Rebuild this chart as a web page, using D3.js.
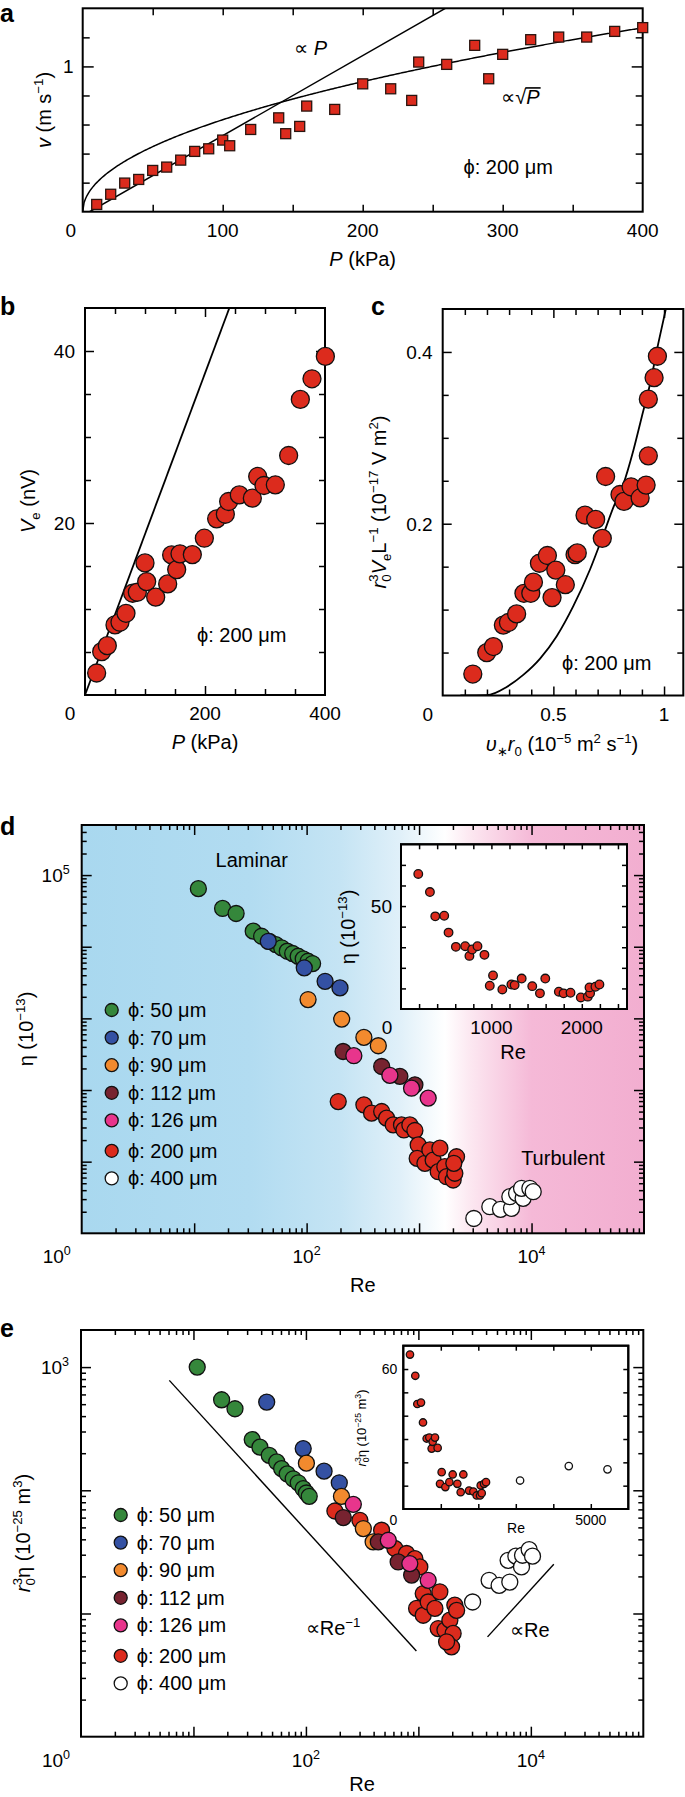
<!DOCTYPE html>
<html><head><meta charset="utf-8">
<script src="https://cdn.jsdelivr.net/npm/d3@7"></script>
<style>
body{margin:0;background:#fff}
text{font-family:"Liberation Sans",Arial,Helvetica,sans-serif;fill:#000}
</style></head>
<body>
<svg id="fig" width="685" height="1797" xmlns="http://www.w3.org/2000/svg"></svg>
<script>
// ================= DATA =================
// Panel a: flow velocity vs pressure (phi 200 um)
const aPressure = [10,20,30,40,50,60,70,80,90,100,105,120,140,145,155,160,180,200,220,235,240,260,280,290,300,320,340,360,380,400];
const aVelocity = [0.05,0.12,0.197,0.222,0.284,0.307,0.355,0.415,0.433,0.493,0.454,0.566,0.646,0.537,0.587,0.727,0.704,0.880,0.846,0.766,1.03,1.014,1.145,0.915,1.083,1.184,1.202,1.202,1.241,1.267];
const aLinearSlope = 0.00551, aLinearOffset = 5;   // "∝ P" guide
const aSqrtCoef = 0.0633;                            // "∝ √P" guide

// Panel b: streaming voltage vs pressure
const bPressure = [19.4,27.8,37.2,50,58.3,68.3,79.4,87.2,100,102.8,117.8,137.8,144.4,152.8,158.3,178.9,198.9,219.4,233.9,239.4,257.2,278.9,287.8,298.3,317.2,339.4,358.9,378.3,400.6];
const bVoltage  = [2.56,5.04,5.74,8.15,8.46,9.5,11.83,11.95,15.36,13.19,11.37,12.92,16.29,14.58,16.41,16.33,18.23,20.48,21.02,22.5,23.27,22.89,25.41,24.36,24.44,27.85,34.37,36.77,39.37];
const bLineP = [0, 240.6], bLineV = [0, 45];

// Panel c: r0^3 Ve/L vs v* r0
const cFlux    = [0.136,0.199,0.229,0.274,0.297,0.334,0.367,0.398,0.41,0.437,0.473,0.494,0.511,0.554,0.598,0.608,0.643,0.691,0.721,0.736,0.801,0.819,0.851,0.892,0.919,0.929,0.929,0.955,0.97];
const cVoltage = [0.025,0.05,0.057,0.082,0.085,0.095,0.119,0.119,0.132,0.154,0.163,0.114,0.146,0.129,0.164,0.166,0.21,0.205,0.183,0.255,0.234,0.226,0.243,0.23,0.245,0.279,0.345,0.37,0.395];
const cCurveX = [0.08,0.2,0.289,0.364,0.44,0.515,0.59,0.666,0.721,0.771,0.816,0.861,0.899,0.937,0.974,1.009];
const cCurveY = [0,0.0004,0.010,0.024,0.043,0.069,0.104,0.147,0.184,0.219,0.246,0.285,0.324,0.363,0.41,0.451];

// Legend labels (pore diameter)
const phiLabels = ["ϕ: 50 μm","ϕ: 70 μm","ϕ: 90 μm","ϕ: 112 μm","ϕ: 126 μm","ϕ: 200 μm","ϕ: 400 μm"];

// Panel d: eta vs Re  [Re, eta(1e-13)]
const d50 = [[10.9,64600],[17.9,34200],[23.6,29100],[33.5,16500],[39.8,14000],[46.6,11900],[53.3,10700],[60.0,9660],[67.3,8650],[75.2,8040],[84.1,7360],[93.3,6760],[103,6270],[113,5820]];
const d70 = [[45.6,11900],[95.3,5070],[146,3290],[198,2660]];
const d90 = [[103,1830],[205,977],[323,542],[434,415]];
const d112 = [[211,345],[465,213],[675,155],[918,118]];
const d126 = [[263,301],[550,160],[857,106],[1205,77.1]];
const d200 = [[191,69.0],[323,62.1],[378,47.5],[465,50.1],[514,40.5],[589,32.6],[698,32.6],[733,27.7],[828,32.6],[918,27.2],[982,17.1],[962,11.1],[1127,9.48],[1247,14.6],[1334,10.5],[1531,15.4],[1479,7.24],[1694,8.51],[1754,6.17],[2009,5.55],[2080,6.89],[2153,11.7],[2037,9.48]];
const d400 = [[3069,1.61],[4256,2.35],[5297,2.16],[6637,2.23],[6412,3.24],[7362,3.61],[8414,3.08],[8147,4.25],[9661,4.25],[10350,3.81]];
// Panel d inset (linear)
const dInset = [[191,65.6],[320,56.8],[379,45],[478,45.3],[526,37.1],[607,30.2],[710,30.5],[757,25.8],[787,28.9],[846,30.5],[923,26.3],[982,11.3],[1018,16.3],[1121,9.5],[1221,11.9],[1257,11.6],[1335,14.8],[1452,11.1],[1537,7.6],[1596,14.8],[1746,8.4],[1798,7.6],[1875,7.9],[1989,5.6],[2066,6.0],[2092,7.6],[2085,10.5],[2151,10.8],[2195,11.9]];

// Panel e: r0^3 eta vs Re  [Re, value(1e-25 m^3)]
const e50 = [[10.8,1000],[17.8,543],[23.4,459],[33.3,258],[39.0,224],[47.2,192],[55.0,170],[60.8,150],[68.2,136],[77.1,124],[85.5,115],[94.6,103],[101,95.1],[107,89.3]];
const e70 = [[44.8,520],[94.6,218],[145,143],[198,115]];
const e90 = [[101,166],[207,89.3],[324,48.9],[396,38.1]];
const e112 = [[215,60.1],[440,38.1],[661,26.2],[871,20.5]];
const e126 = [[264,76.9],[540,39.3],[839,25.4],[1222,18.6]];
const e200 = [[181,67.9],[302,57.1],[471,47.4],[618,33.7],[785,30.7],[931,27.9],[1030,23.9],[1104,14.5],[964,11.0],[1104,9.68],[1222,12.4],[1403,11.0],[1552,15.0],[1500,7.55],[1722,7.33],[1905,8.83],[2109,11.7],[2188,10.6],[2037,6.89],[1972,5.36],[1782,5.89]];
const e400 = [[3034,12.4],[4256,18.6],[5224,16.9],[6501,18.0],[6281,27.0],[7362,29.2],[8260,23.9],[8433,29.7],[9661,33.0],[10350,29.2]];
const eInsetRed = [[178,66.2],[320,57.1],[374,45],[472,45.6],[525,37.1],[623,30.2],[694,30.6],[756,25.9],[783,28.8],[845,30.6],[916,26.2],[979,10.8],[1023,15.8],[1121,9.4],[1228,11.5],[1317,14.8],[1441,10.8],[1530,7.2],[1601,14.8],[1753,7.9],[1868,7.5],[1957,5.8],[2046,5.8],[2091,6.8],[2064,10.1],[2153,10.8],[2206,11.5]];
const eInsetWhite = [[3114,12.2],[4413,18.4],[5445,17.0]];
const eGuideMinusRe = [6.1, 960], eGuideMinusY = [780, 4.96];
const eGuidePlusRe = [4120, 16000], eGuidePlusY = [6.46, 25.1];

// ================= STYLE =================
const RED = "#dc2b1d";
const phiColors = ["#35873b","#3451a3","#f28a2e","#772330","#e8358c","#dc2b1d","#ffffff"];
const svg = d3.select("#fig");

function rich(g, x, y, parts, opt = {}) {
  const fs = opt.fs || 20;
  const t = g.append("text").attr("x", x).attr("y", y).attr("font-size", fs)
    .attr("text-anchor", opt.anchor || "start");
  if (opt.rotate) t.attr("transform", `rotate(-90,${x},${y})`);
  if (opt.weight) t.attr("font-weight", opt.weight);
  let level = 0;
  parts.forEach(p => {
    const target = p.sup ? -0.42 * fs : p.sub ? 0.24 * fs : 0;
    const ts = t.append("tspan").text(p.t);
    const dy = target - level;
    if (dy !== 0) ts.attr("dy", dy);
    level = target;
    if (p.sup || p.sub) ts.attr("font-size", fs * 0.66);
    if (p.it) ts.attr("font-style", "italic");
    if (p.dx) ts.attr("dx", p.dx * fs);
  });
  return t;
}
function ticks(g, scale, orient, pos, values, size) {
  const fn = {bottom: d3.axisBottom, top: d3.axisTop, left: d3.axisLeft, right: d3.axisRight}[orient];
  const gg = g.append("g").attr("transform", pos)
    .call(fn(scale).tickValues(values).tickSize(-size).tickFormat(""));
  gg.select(".domain").remove();
  gg.selectAll(".tick line").attr("stroke", "#000").attr("stroke-width", 1.5);
  gg.selectAll(".tick text").remove();
}
function allTicks(g, P, xs, ys, xv, yv, size) {
  ticks(g, xs, "bottom", `translate(0,${P.y1})`, xv, size);
  ticks(g, xs, "top", `translate(0,${P.y0})`, xv, size);
  ticks(g, ys, "left", `translate(${P.x0},0)`, yv, size);
  ticks(g, ys, "right", `translate(${P.x1},0)`, yv, size);
}
function box(g, P, fill) {
  return g.append("rect").attr("x", P.x0).attr("y", P.y0).attr("width", P.x1 - P.x0)
    .attr("height", P.y1 - P.y0).attr("fill", fill || "none").attr("stroke", "#000").attr("stroke-width", 2);
}
function clip(id, P) {
  svg.append("clipPath").attr("id", id).append("rect")
    .attr("x", P.x0).attr("y", P.y0).attr("width", P.x1 - P.x0).attr("height", P.y1 - P.y0);
  return `url(#${id})`;
}
function logVals(lo, hi, major) {
  const out = [];
  for (let k = -1; k <= 7; k++) for (let m = 1; m <= 9; m++) {
    const v = m * Math.pow(10, k);
    if (v > lo * 1.0001 && v < hi * 0.9999 && ((m === 1) === major)) out.push(v);
  }
  return out;
}
function panelLabel(x, y, t) {
  svg.append("text").attr("x", x).attr("y", y).attr("font-size", 25).attr("font-weight", "bold").text(t);
}
const range = (a, b, s) => d3.range(a, b + s / 2, s).map(v => +v.toFixed(4));

// ================= PANEL a =================
{
  const P = {x0: 82.7, x1: 642.7, y0: 8.3, y1: 211.7};
  const xs = d3.scaleLinear().domain([0, 400]).range([P.x0, P.x1]);
  const ys = d3.scaleLinear().domain([0, 1.4]).range([P.y1, P.y0]);
  const g = svg.append("g");
  allTicks(g, P, xs, ys, range(50, 350, 50), [0.2, 0.4, 0.6, 0.8, 1.2], 7);
  ticks(g, ys, "left", `translate(${P.x0},0)`, [1], 11);
  ticks(g, ys, "right", `translate(${P.x1},0)`, [1], 11);
  box(g, P);
  const cp = clip("clipA", P);
  const line = d3.line().x(d => xs(d[0])).y(d => ys(d[1]));
  const pTop = aLinearOffset + 1.45 / aLinearSlope;
  g.append("path").attr("clip-path", cp).attr("fill", "none").attr("stroke", "#000").attr("stroke-width", 1.5)
    .attr("d", line([[aLinearOffset, 0], [pTop, 1.45]]));
  const sq = d3.range(0, 401, 1).map(p => [p, aSqrtCoef * Math.sqrt(p)]);
  g.append("path").attr("clip-path", cp).attr("fill", "none").attr("stroke", "#000").attr("stroke-width", 1.5)
    .attr("d", line(sq));
  const s = 10;
  g.selectAll("rect.pt").data(aPressure.map((p, i) => [p, aVelocity[i]])).enter().append("rect")
    .attr("x", d => xs(d[0]) - s / 2).attr("y", d => ys(d[1]) - s / 2).attr("width", s).attr("height", s)
    .attr("fill", RED).attr("stroke", "#2a1510").attr("stroke-width", 1.3);
  [0, 100, 200, 300, 400].forEach(v => g.append("text").attr("x", xs(v) + (v === 0 ? -12 : 0)).attr("y", P.y1 + 25)
    .attr("font-size", 19).attr("text-anchor", "middle").text(v));
  g.append("text").attr("x", P.x0 - 9).attr("y", ys(1) + 7).attr("font-size", 19).attr("text-anchor", "end").text("1");
  rich(g, 362.7, 266, [{t: "P", it: true}, {t: " (kPa)"}], {anchor: "middle"});
  rich(g, 51, 110, [{t: "v", it: true}, {t: " (m s"}, {t: "−1", sup: true}, {t: ")"}], {anchor: "middle", rotate: true});
  rich(g, xs(151), ys(1.126) + 7, [{t: "∝ "}, {t: "P", it: true}]);
  const t1 = rich(g, xs(299), ys(0.79) + 7, [{t: "∝√"}]);
  const px = xs(299) + t1.node().getComputedTextLength();
  const pt = rich(g, px, ys(0.79) + 7, [{t: "P", it: true}]);
  const pw = pt.node().getComputedTextLength();
  g.append("line").attr("x1", px - 1).attr("x2", px + pw + 1).attr("y1", ys(0.79) - 9).attr("y2", ys(0.79) - 9)
    .attr("stroke", "#000").attr("stroke-width", 1.6);
  rich(g, xs(272), ys(0.31) + 7, [{t: "ϕ: 200 μm"}]);
  panelLabel(0, 22, "a");
}

// ================= PANEL b =================
{
  const P = {x0: 85, x1: 325, y0: 308, y1: 695};
  const xs = d3.scaleLinear().domain([0, 400]).range([P.x0, P.x1]);
  const ys = d3.scaleLinear().domain([0, 45]).range([P.y1, P.y0]);
  const g = svg.append("g");
  allTicks(g, P, xs, ys, [50, 100, 150, 250, 300, 350], [5, 10, 15, 25, 30, 35], 6);
  allTicks(g, P, xs, ys, [200], [20, 40], 9);
  box(g, P);
  const cp = clip("clipB", P);
  const line = d3.line().x(d => xs(d[0])).y(d => ys(d[1]));
  g.append("path").attr("clip-path", cp).attr("fill", "none").attr("stroke", "#000").attr("stroke-width", 1.8)
    .attr("d", line(bLineP.map((p, i) => [p, bLineV[i]])));
  g.selectAll("circle").data(bPressure.map((p, i) => [p, bVoltage[i]])).enter().append("circle")
    .attr("cx", d => xs(d[0])).attr("cy", d => ys(d[1])).attr("r", 9)
    .attr("fill", RED).attr("stroke", "#111").attr("stroke-width", 1.3);
  [0, 200, 400].forEach(v => g.append("text").attr("x", xs(v) + (v === 0 ? -15 : 0)).attr("y", P.y1 + 25)
    .attr("font-size", 19).attr("text-anchor", "middle").text(v));
  [20, 40].forEach(v => g.append("text").attr("x", P.x0 - 10).attr("y", ys(v) + 7)
    .attr("font-size", 19).attr("text-anchor", "end").text(v));
  rich(g, 205, 749, [{t: "P", it: true}, {t: " (kPa)"}], {anchor: "middle"});
  rich(g, 35, 501, [{t: "V", it: true}, {t: "e", sub: true}, {t: " (nV)"}], {anchor: "middle", rotate: true});
  rich(g, 197, 642, [{t: "ϕ: 200 μm"}]);
  panelLabel(0, 315, "b");
}

// ================= PANEL c =================
{
  const P = {x0: 442.7, x1: 683.3, y0: 309, y1: 695.5};
  const xs = d3.scaleLinear().domain([0, 1.087]).range([P.x0, P.x1]);
  const ys = d3.scaleLinear().domain([0, 0.45]).range([P.y1, P.y0]);
  const g = svg.append("g");
  allTicks(g, P, xs, ys, [0.1, 0.2, 0.3, 0.4, 0.6, 0.7, 0.8, 0.9], [0.05, 0.1, 0.15, 0.25, 0.3, 0.35], 6);
  allTicks(g, P, xs, ys, [0.5, 1.0], [0.2, 0.4], 9);
  box(g, P);
  const cp = clip("clipC", P);
  const line = d3.line().x(d => xs(d[0])).y(d => ys(d[1])).curve(d3.curveMonotoneX);
  g.append("path").attr("clip-path", cp).attr("fill", "none").attr("stroke", "#000").attr("stroke-width", 1.8)
    .attr("d", line(cCurveX.map((x, i) => [x, cCurveY[i]])));
  g.selectAll("circle").data(cFlux.map((x, i) => [x, cVoltage[i]])).enter().append("circle")
    .attr("cx", d => xs(d[0])).attr("cy", d => ys(d[1])).attr("r", 9)
    .attr("fill", RED).attr("stroke", "#111").attr("stroke-width", 1.3);
  [[0, "0"], [0.5, "0.5"], [1, "1"]].forEach(([v, t]) => g.append("text").attr("x", xs(v) + (v === 0 ? -15 : 0))
    .attr("y", P.y1 + 25).attr("font-size", 19).attr("text-anchor", "middle").text(t));
  [[0.2, "0.2"], [0.4, "0.4"]].forEach(([v, t]) => g.append("text").attr("x", P.x0 - 10).attr("y", ys(v) + 7)
    .attr("font-size", 19).attr("text-anchor", "end").text(t));
  rich(g, 562, 751, [{t: "υ", it: true}, {t: "∗", sub: true}, {t: "r", it: true}, {t: "0", sub: true},
    {t: " (10"}, {t: "−5", sup: true}, {t: " m"}, {t: "2", sup: true}, {t: " s"}, {t: "−1", sup: true}, {t: ")"}], {anchor: "middle"});
  rich(g, 386, 502, [{t: "r", it: true}, {t: "0", sub: true}, {t: "3", sup: true, dx: -0.36}, {t: "V", it: true},
    {t: "e", sub: true}, {t: "L"}, {t: "−1", sup: true}, {t: " (10"}, {t: "−17", sup: true}, {t: " V m"},
    {t: "2", sup: true}, {t: ")"}], {anchor: "middle", rotate: true});
  rich(g, 562, 670, [{t: "ϕ: 200 μm"}]);
  panelLabel(371, 315, "c");
}

// ---------- shared log panel ----------
function logPanel(P, yDomain, cfg) {
  const xs = d3.scaleLog().domain([1, 1e5]).range([P.x0, P.x1]);
  const ys = d3.scaleLog().domain(yDomain).range([P.y1, P.y0]);
  const g = svg.append("g");
  if (cfg.bg) box(g, P, cfg.bg).attr("stroke", "none");
  allTicks(g, P, xs, ys, logVals(1, 1e5, false), logVals(yDomain[0], yDomain[1], false), 5);
  allTicks(g, P, xs, ys, logVals(1, 1e5, true), logVals(yDomain[0], yDomain[1], true), 10);
  box(g, P);
  [0, 2, 4].forEach(k => rich(g, xs(Math.pow(10, k)) + (k === 0 ? -25 : 0), P.y1 + 30,
    [{t: "10"}, {t: String(k), sup: true}], {fs: 19, anchor: "middle"}));
  rich(g, P.x0 - 12, ys(Math.pow(10, cfg.yLabelExp)) + 6.5, [{t: "10"}, {t: String(cfg.yLabelExp), sup: true}],
    {fs: 19, anchor: "end"});
  return {g, xs, ys};
}
function dots(g, xs, ys, data, color, r) {
  g.append("g").selectAll("circle").data(data).enter().append("circle")
    .attr("cx", d => xs(d[0])).attr("cy", d => ys(d[1])).attr("r", r)
    .attr("fill", color).attr("stroke", "#111").attr("stroke-width", 1.3);
}
function legend(g, cx, tx, y0) {
  phiLabels.forEach((lab, i) => {
    const y = y0 + i * 27.6 + (i >= 5 ? 2.8 : 0);
    g.append("circle").attr("cx", cx).attr("cy", y).attr("r", 6.5).attr("fill", phiColors[i])
      .attr("stroke", "#111").attr("stroke-width", 1.3);
    g.append("text").attr("x", tx).attr("y", y + 7).attr("font-size", 20).text(lab);
  });
}
function insetAxes(P, xs, ys, xv, yv, size) {
  const g = svg.append("g");
  box(g, P, "#fff");
  allTicks(g, P, xs, ys, xv, yv, size);
  box(g, P);
  return g;
}

// ================= PANEL d =================
{
  const defs = svg.append("defs");
  const P = {x0: 81.7, x1: 644, y0: 825, y1: 1233.3};
  const grad = defs.append("linearGradient").attr("id", "bgD").attr("gradientUnits", "userSpaceOnUse")
    .attr("x1", P.x0).attr("x2", P.x1).attr("y1", 0).attr("y2", 0);
  [[0, "#a9d8ef"], [0.3, "#b2dcf1"], [0.46, "#c5e4f4"], [0.566, "#e0f0f9"], [0.646, "#ffffff"],
   [0.69, "#fce8f1"], [0.8, "#f5b9d7"], [1, "#f2aed0"]].forEach(([o, c]) =>
    grad.append("stop").attr("offset", o).attr("stop-color", c));
  const {g, xs, ys} = logPanel(P, [1, 5e5], {bg: "url(#bgD)", yLabelExp: 5});
  [d50, d70, d90, d112, d126, d200, d400].forEach((d, i) => dots(g, xs, ys, d, phiColors[i], 8));
  legend(g, 111.7, 128, 1010);
  g.append("text").attr("x", 251.7).attr("y", 867).attr("font-size", 20).attr("text-anchor", "middle").text("Laminar");
  g.append("text").attr("x", 563).attr("y", 1165).attr("font-size", 20).attr("text-anchor", "middle").text("Turbulent");
  g.append("text").attr("x", 362.9).attr("y", 1292).attr("font-size", 20).attr("text-anchor", "middle").text("Re");
  rich(g, 33, 1029, [{t: "η (10"}, {t: "−13", sup: true}, {t: ")"}], {anchor: "middle", rotate: true});
  // inset
  const I = {x0: 401, x1: 627, y0: 844.3, y1: 1009};
  const ixs = d3.scaleLinear().domain([0, 2500]).range([I.x0, I.x1]);
  const iys = d3.scaleLinear().domain([0, 80]).range([I.y1, I.y0]);
  const ig = insetAxes(I, ixs, iys, range(200, 2400, 200), range(10, 70, 10), 5);
  dots(ig, ixs, iys, dInset, RED, 4.3);
  [[0, "0"], [1000, "1000"], [2000, "2000"]].forEach(([v, t]) => ig.append("text")
    .attr("x", ixs(v) + (v === 0 ? -14 : 0)).attr("y", 1034).attr("font-size", 19).attr("text-anchor", "middle").text(t));
  ig.append("text").attr("x", I.x0 - 9).attr("y", iys(50) + 7).attr("font-size", 19).attr("text-anchor", "end").text("50");
  ig.append("text").attr("x", 513).attr("y", 1058.5).attr("font-size", 20).attr("text-anchor", "middle").text("Re");
  rich(ig, 355, 927, [{t: "η (10"}, {t: "−13", sup: true}, {t: ")"}], {anchor: "middle", rotate: true});
  panelLabel(0, 835, "d");
}

// ================= PANEL e =================
{
  const P = {x0: 81, x1: 643.3, y0: 1330, y1: 1736.7};
  const {g, xs, ys} = logPanel(P, [1, 2000], {yLabelExp: 3});
  const line = d3.line().x(d => xs(d[0])).y(d => ys(d[1]));
  g.append("path").attr("fill", "none").attr("stroke", "#000").attr("stroke-width", 1.4)
    .attr("d", line(eGuideMinusRe.map((r, i) => [r, eGuideMinusY[i]])));
  g.append("path").attr("fill", "none").attr("stroke", "#000").attr("stroke-width", 1.4)
    .attr("d", line(eGuidePlusRe.map((r, i) => [r, eGuidePlusY[i]])));
  const order = [[e50, 0], [e70, 1], [e200, 5], [e90, 2], [e112, 3], [e126, 4], [e400, 6]];
  order.forEach(([d, i]) => dots(g, xs, ys, d, phiColors[i], 8));
  legend(g, 120.7, 136.7, 1515);
  rich(g, 305.7, 1635, [{t: "∝Re"}, {t: "−1", sup: true}]);
  rich(g, 510, 1637, [{t: "∝Re"}]);
  g.append("text").attr("x", 362).attr("y", 1791).attr("font-size", 20).attr("text-anchor", "middle").text("Re");
  rich(g, 30, 1533, [{t: "r", it: true}, {t: "0", sub: true}, {t: "3", sup: true, dx: -0.36}, {t: "η (10"},
    {t: "−25", sup: true}, {t: " m"}, {t: "3", sup: true}, {t: ")"}], {anchor: "middle", rotate: true});
  // inset
  const I = {x0: 403.3, x1: 628.3, y0: 1345.7, y1: 1509};
  const ixs = d3.scaleLinear().domain([0, 6000]).range([I.x0, I.x1]);
  const iys = d3.scaleLinear().domain([0, 70]).range([I.y1, I.y0]);
  const ig = insetAxes(I, ixs, iys, range(1000, 5000, 1000), range(10, 60, 10), 5);
  dots(ig, ixs, iys, eInsetRed, RED, 3.7);
  dots(ig, ixs, iys, eInsetWhite, "#fff", 3.7);
  [[0, "0"], [5000, "5000"]].forEach(([v, t]) => ig.append("text")
    .attr("x", ixs(v) + (v === 0 ? -10 : 0)).attr("y", 1524.5).attr("font-size", 14).attr("text-anchor", "middle").text(t));
  ig.append("text").attr("x", I.x0 - 6).attr("y", iys(60) + 5).attr("font-size", 14).attr("text-anchor", "end").text("60");
  ig.append("text").attr("x", 516).attr("y", 1532.5).attr("font-size", 14).attr("text-anchor", "middle").text("Re");
  rich(ig, 366, 1428, [{t: "r", it: true}, {t: "0", sub: true}, {t: "3", sup: true, dx: -0.36}, {t: "η (10"},
    {t: "−25", sup: true}, {t: " m"}, {t: "3", sup: true}, {t: ")"}], {fs: 13, anchor: "middle", rotate: true});
  panelLabel(0, 1337, "e");
}
</script>
</body></html>
